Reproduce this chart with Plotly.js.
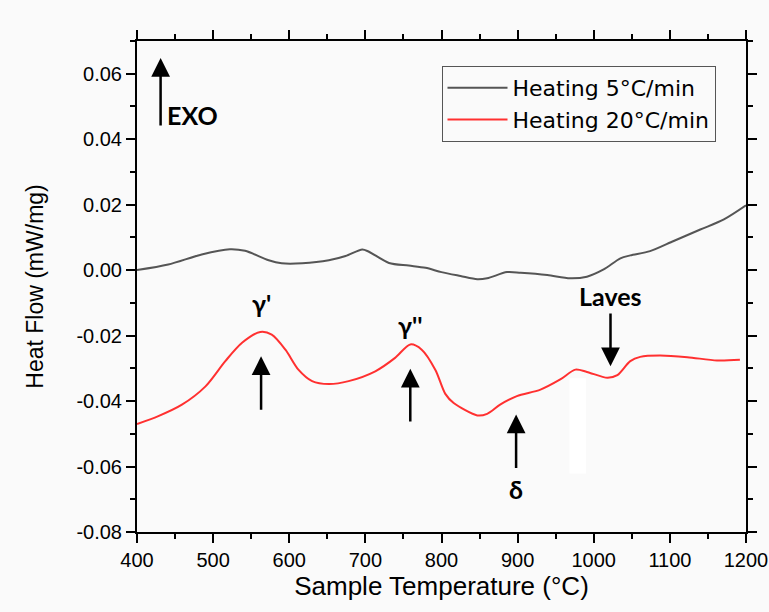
<!DOCTYPE html>
<html>
<head>
<meta charset="utf-8">
<script src="https://cdn.plot.ly/plotly-3.0.1.min.js"></script>
<style>
  html, body { margin: 0; padding: 0; background: #fafafa; }
  #chart { width: 769px; height: 612px; }
</style>
</head>
<body>
<div id="chart"></div>
<script>
// Heating 5°C/min (gray)
const temp5 = [400, 441, 485, 522, 542, 573, 590, 617, 652, 674, 696, 704, 731, 757, 779, 800, 825, 847, 860, 886, 904, 939, 969, 991, 1013, 1035, 1048, 1074, 1105, 1140, 1171, 1200];
const flow5 = [0.0000, 0.0017, 0.0048, 0.0064, 0.0059, 0.0030, 0.0021, 0.0021, 0.0030, 0.0043, 0.0063, 0.0057, 0.0022, 0.0014, 0.0007, -0.0006, -0.0018, -0.0028, -0.0025, -0.0006, -0.0008, -0.0015, -0.0025, -0.0020, 0.0002, 0.0036, 0.0045, 0.0058, 0.0089, 0.0124, 0.0155, 0.0198];

// Heating 20°C/min (red)
const temp20 = [400, 428, 459, 490, 516, 538, 562, 577, 595, 612, 630, 652, 678, 713, 739, 759, 774, 792, 805, 816, 847, 860, 877, 899, 930, 956, 976, 991, 1018, 1031, 1048, 1061, 1087, 1123, 1162, 1192];
const flow20 = [-0.0470, -0.0446, -0.0411, -0.0355, -0.0278, -0.0222, -0.0189, -0.0197, -0.0243, -0.0304, -0.0339, -0.0348, -0.0339, -0.0309, -0.0268, -0.0227, -0.0243, -0.0305, -0.0378, -0.0406, -0.0444, -0.0439, -0.0411, -0.0385, -0.0365, -0.0334, -0.0304, -0.0311, -0.0329, -0.0321, -0.0278, -0.0265, -0.0261, -0.0266, -0.0276, -0.0274];

const seriesNames = ['Heating 5°C/min', 'Heating 20°C/min'];

// Y tick labels (hyphen minus as in the original)
const yTickVals = [-0.08, -0.06, -0.04, -0.02, 0.00, 0.02, 0.04, 0.06];
const yTickText = ['-0.08', '-0.06', '-0.04', '-0.02', '0.00', '0.02', '0.04', '0.06'];

// Annotation labels and arrow positions
const labels = ['EXO', "γ'", "γ''", 'δ', 'Laves'];
const labelX = [437, 563, 759, 898, 1022];
const labelY = [0.0474, -0.0100, -0.0167, -0.0670, -0.0080];
const arrowTipX = [431, 563, 759, 898, 1022];
const arrowTipY = [0.0648, -0.0263, -0.0301, -0.0441, -0.0294];
const arrowTailY = [0.0437, -0.0431, -0.0467, -0.0609, -0.0128];

const annFont = {family: 'Lato, "Open Sans", sans-serif', size: 25, color: '#000', weight: 'bold'};

const annotations = [];
for (let i = 0; i < labels.length; i++) {
  annotations.push({
    x: labelX[i], y: labelY[i], xref: 'x', yref: 'y',
    text: '<b>' + labels[i] + '</b>', showarrow: false,
    xanchor: i === 0 ? 'left' : 'center', yanchor: 'middle',
    font: annFont
  });
  annotations.push({
    x: arrowTipX[i], y: arrowTipY[i], xref: 'x', yref: 'y',
    ax: arrowTipX[i], ay: arrowTailY[i], axref: 'x', ayref: 'y',
    text: '', showarrow: true, arrowhead: 2, arrowsize: 1.5, arrowwidth: 2.5,
    arrowcolor: '#000', standoff: 0, startstandoff: 0
  });
}

const traces = [
  {x: temp5, y: flow5, type: 'scatter', mode: 'lines', name: seriesNames[0],
   line: {color: '#555555', width: 2, shape: 'spline', smoothing: 0.8}},
  {x: temp20, y: flow20, type: 'scatter', mode: 'lines', name: seriesNames[1],
   line: {color: '#ff3030', width: 2, shape: 'spline', smoothing: 0.8}}
];

const axisFont = {family: '"Liberation Sans", Arial, sans-serif', size: 20, color: '#000'};

const layout = {
  width: 769, height: 612,
  paper_bgcolor: '#fafafa', plot_bgcolor: '#fafafa',
  margin: {l: 137, r: 23, t: 41, b: 80},
  showlegend: true,
  legend: {x: 0.5, y: 0.949, xanchor: 'left', yanchor: 'top',
           font: {family: '"DejaVu Sans", sans-serif', size: 22, color: '#000'},
           bordercolor: '#555', borderwidth: 1, bgcolor: 'rgba(0,0,0,0)',
           itemwidth: 60, tracegroupgap: 0},
  xaxis: {
    range: [400, 1200], dtick: 100, tick0: 400,
    ticks: 'outside', ticklen: 9, tickwidth: 2, tickcolor: '#000',
    showline: true, linewidth: 2, linecolor: '#000', mirror: 'ticks',
    showgrid: false, zeroline: false, tickfont: axisFont,
    minor: {dtick: 50, ticks: 'outside', ticklen: 5, tickwidth: 2, tickcolor: '#000', showgrid: false},
    title: {text: 'Sample Temperature (°C)', font: {family: '"Liberation Sans", Arial, sans-serif', size: 26, color: '#000'}, standoff: 6}
  },
  yaxis: {
    range: [-0.08, 0.07], tickmode: 'array', tickvals: yTickVals, ticktext: yTickText,
    ticks: 'outside', ticklen: 9, tickwidth: 2, tickcolor: '#000',
    showline: true, linewidth: 2, linecolor: '#000', mirror: 'ticks',
    showgrid: false, zeroline: false, tickfont: axisFont,
    minor: {dtick: 0.01, tick0: 0, ticks: 'outside', ticklen: 5, tickwidth: 2, tickcolor: '#000', showgrid: false},
    title: {text: 'Heat Flow (mW/mg)', font: {family: '"Liberation Sans", Arial, sans-serif', size: 23, color: '#000'}, standoff: 26}
  },
  shapes: [{type: 'rect', xref: 'x', yref: 'y', x0: 968, x1: 990, y0: -0.0621, y1: -0.033,
            fillcolor: '#ffffff', line: {width: 0}, layer: 'below'}],
  annotations: annotations
};

Plotly.newPlot('chart', traces, layout, {displayModeBar: false, staticPlot: true});
</script>
</body>
</html>
